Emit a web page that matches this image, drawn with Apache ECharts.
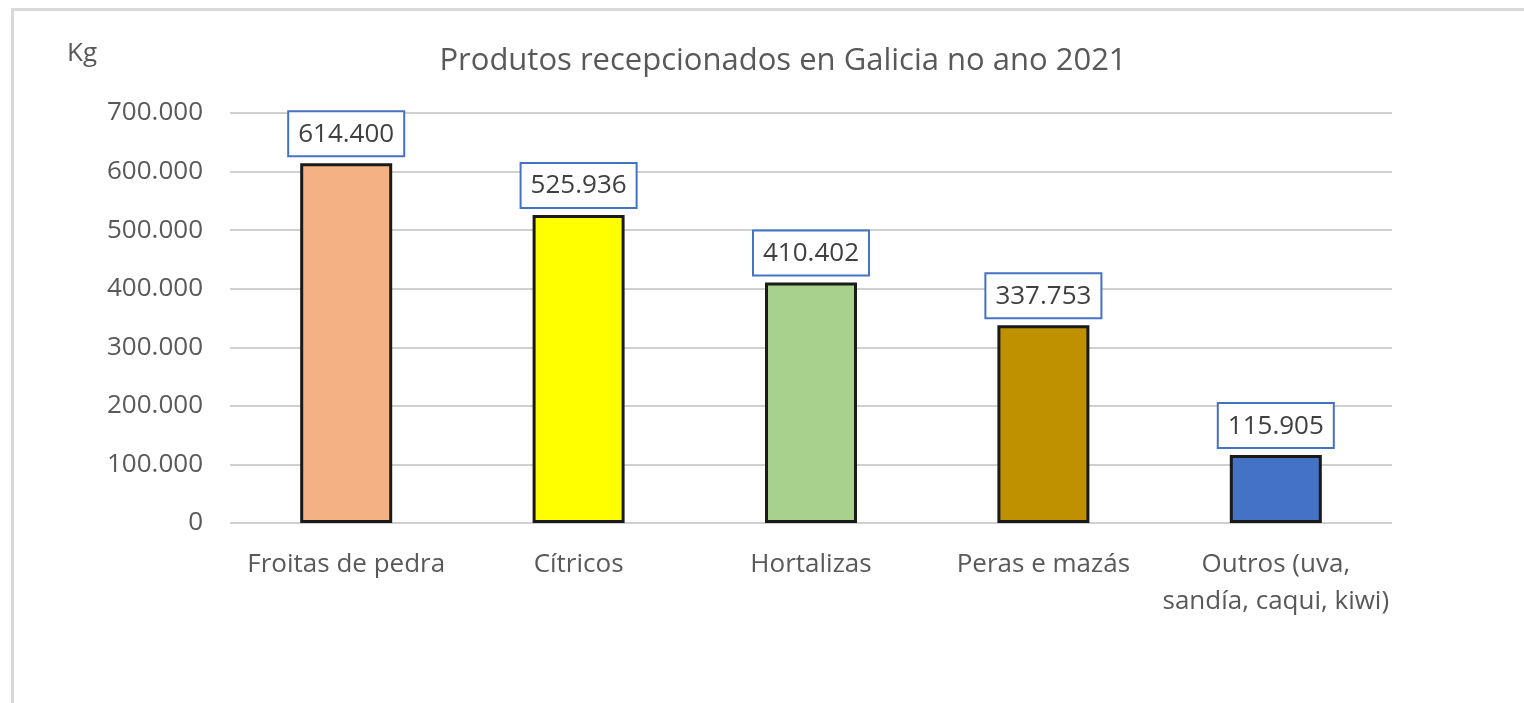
<!DOCTYPE html>
<html><head><meta charset="utf-8">
<script src="https://cdn.jsdelivr.net/npm/echarts@6/dist/echarts.min.js"></script>
<style>
html,body{margin:0;padding:0;background:#fff;overflow:hidden}
#frame{position:absolute;left:11px;top:8px;width:1600px;height:800px;border-left:3px solid #d9d9d9;border-top:3px solid #d9d9d9}
#c{position:absolute;left:0;top:0;width:1524px;height:703px}
</style></head>
<body>
<div id="frame"></div>
<div id="c"></div>
<script>
const categories = ['Froitas de pedra', 'Cítricos', 'Hortalizas', 'Peras e mazás', 'Outros (uva,\nsandía, caqui, kiwi)'];
const values = [614400, 525936, 410402, 337753, 115905];
const barColors = ['#F4B183', '#FFFF00', '#A9D18E', '#BF9000', '#4472C4'];
const yTicks = [0, 100000, 200000, 300000, 400000, 500000, 600000, 700000];

const FONT = 'Open Sans';
function fmt(v){ return String(v).replace(/\B(?=(\d{3})+(?!\d))/g, '.'); }

const chart = echarts.init(document.getElementById('c'));
chart.setOption({
  animation: false,
  backgroundColor: 'transparent',
  title: {
    text: 'Produtos recepcionados en Galicia no ano 2021',
    left: 778, top: 41, textAlign: 'center',
    textStyle: {fontFamily: FONT, fontSize: 31, fontWeight: 'normal', color: '#595959'}
  },
  graphic: [{
    type: 'text', left: 67, top: 41,
    style: {text: 'Kg', font: '26px "Open Sans"', fill: '#595959'}
  }],
  grid: {left: 230, right: 132, top: 113, bottom: 180, containLabel: false},
  xAxis: {
    type: 'category', data: categories,
    axisLine: {show: false}, axisTick: {show: false},
    axisLabel: {fontFamily: FONT, fontSize: 26, color: '#595959', margin: 23, lineHeight: 37, interval: 0}
  },
  yAxis: {
    type: 'value', min: yTicks[0], max: yTicks[yTicks.length-1], interval: 100000,
    axisLine: {show: false}, axisTick: {show: false},
    splitLine: {lineStyle: {color: '#d0d0d0', width: 2}},
    axisLabel: {fontFamily: FONT, fontSize: 26, color: '#595959', margin: 27, formatter: v => fmt(v)}
  },
  series: [{
    type: 'bar', barWidth: 92,
    data: values.map((v, i) => ({value: v, itemStyle: {color: barColors[i]}})),
    itemStyle: {borderColor: '#1a1a1a', borderWidth: 3},
    label: {
      show: true, position: 'top', distance: 8,
      formatter: p => fmt(p.value),
      fontFamily: FONT, fontSize: 26, color: '#404040',
      backgroundColor: '#fff', borderColor: '#4472C4', borderWidth: 2,
      padding: [9, 9, 8, 9]
    }
  }]
});
</script>
</body></html>
